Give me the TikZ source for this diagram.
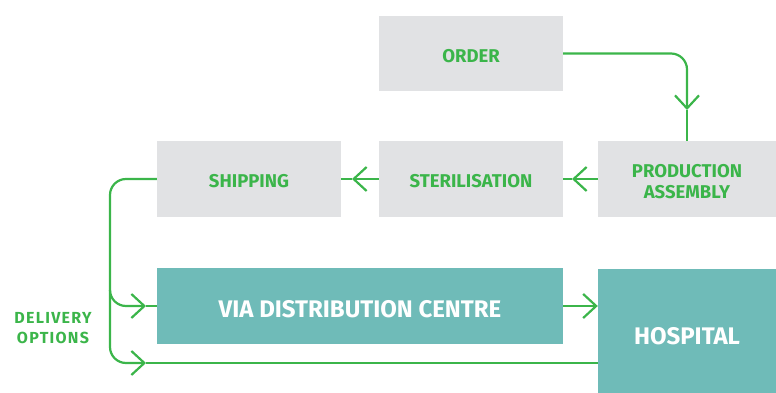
\documentclass[tikz,border=0pt]{standalone}
\usepackage{fontspec}
\setmainfont{Fira Sans}
\usetikzlibrary{arrows.meta}
\definecolor{flowgreen}{HTML}{3BB54A}
\definecolor{boxgrey}{HTML}{E1E2E4}
\definecolor{boxteal}{HTML}{6FBBB8}
\newcommand{\lowertext}[2]{\raisebox{-#1}[\height][0pt]{#2}}
\tikzset{
  greybox/.style={fill=boxgrey, draw=none, inner sep=0pt, align=center, text=flowgreen, font=\fontsize{18.5}{21}\selectfont\bfseries},
  tealbox/.style={fill=boxteal, draw=none, inner sep=0pt, align=center, text=white, font=\fontsize{24}{28}\selectfont\bfseries},
  flow/.style={draw=flowgreen, line width=2.2pt},
  chev/.style={-{Straight Barb[length=13pt,width=24pt]}},
}
\begin{document}
\begin{tikzpicture}[x=1pt,y=-1pt]
\useasboundingbox (0,0) rectangle (776,393);
\node[greybox, minimum width=184pt, minimum height=75pt] (order) at (471,53.5) {\lowertext{2pt}{ORDER}};
\node[greybox, minimum width=184pt, minimum height=76pt] (ship) at (249,179) {\lowertext{2pt}{SHIPPING}};
\node[greybox, minimum width=184pt, minimum height=76pt] (ster) at (471,179) {\lowertext{2pt}{STERILISATION}};
\node[greybox, minimum width=178pt, minimum height=76pt] (prod) at (687,179) {\lowertext{2pt}{PRODUCTION}\\\lowertext{2pt}{ASSEMBLY}};
\node[tealbox, minimum width=406pt, minimum height=76pt] (dist) at (360,306) {\lowertext{3pt}{VIA DISTRIBUTION CENTRE}};
\node[tealbox, minimum width=178pt, minimum height=124pt] (hosp) at (687,331) {\lowertext{5pt}{HOSPITAL}};
\node[text=flowgreen, align=center, font=\fontsize{16}{20}\selectfont\bfseries\addfontfeature{LetterSpace=8}] (deliv) at (53,328) {DELIVERY\\OPTIONS};

\coordinate (t1) at (687,110);
\coordinate (t2) at (572,179);
\coordinate (t3) at (352,179);
\coordinate (c1) at (110,179);
\coordinate (c2) at (110,306);
\coordinate (t4) at (146,306);
\coordinate (c3) at (110,290);
\coordinate (c4) at (110,363);
\coordinate (t5) at (146,363);

\draw[flow, chev, rounded corners=16pt] (order.east) -| (t1);
\draw[flow] (t1) -- (prod.north);
\draw[flow, chev] (prod.west) -- (t2);
\draw[flow] (t2) -- (ster.east);
\draw[flow, chev] (ster.west) -- (t3);
\draw[flow] (t3) -- (ship.east);
\draw[flow, chev, rounded corners=16pt] (ship.west) -- (c1) -- (c2) -- (t4);
\draw[flow] (t4) -- (dist.west);
\draw[flow, chev, rounded corners=16pt] (c3) -- (c4) -- (t5);
\draw[flow] (t5) -- (hosp.west |- t5);
\draw[flow, chev] (dist.east) -- (hosp.west |- dist.east);
\end{tikzpicture}
\end{document}
